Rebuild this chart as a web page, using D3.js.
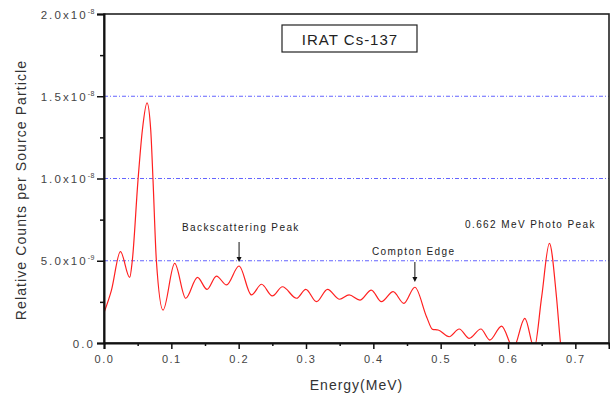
<!DOCTYPE html>
<html>
<head>
<meta charset="utf-8">
<script src="https://cdn.jsdelivr.net/npm/d3@7"></script>
<style>
body { margin: 0; background: #fff; }
text { font-family: Arial, "Liberation Sans", sans-serif; }
</style>
</head>
<body>
<script>
// energy (MeV) and relative counts (in units of 1e-9)
var energy = [0.000, 0.011, 0.0244, 0.0382, 0.042, 0.0505, 0.057, 0.0639, 0.0694, 0.0728,
	0.0778, 0.0877, 0.105, 0.1214, 0.1388, 0.153, 0.167, 0.182, 0.2006, 0.219,
	0.234, 0.250, 0.265, 0.286, 0.2997, 0.3156, 0.332, 0.350, 0.364, 0.380,
	0.397, 0.412, 0.4294, 0.4453, 0.4617, 0.479, 0.488, 0.4963, 0.5126, 0.5275,
	0.5424, 0.5597, 0.573, 0.5905, 0.608, 0.625, 0.639, 0.650, 0.6615, 0.672,
	0.678, 0.684];
var counts = [1.84, 3.2, 5.55, 3.99, 5.0, 9.9, 12.95, 14.6, 12.95, 9.9,
	5.0, 2.0, 4.84, 2.72, 3.99, 3.26, 4.07, 3.53, 4.68, 2.92,
	3.57, 2.86, 3.42, 2.72, 3.26, 2.51, 3.26, 2.66, 2.92, 2.61,
	3.22, 2.51, 3.12, 2.41, 3.39, 1.6, 0.83, 0.79, 0.38, 0.85,
	0.28, 0.85, 0.18, 1.03, -0.3, 1.5, -0.3, 2.8, 6.06, 2.8,
	0, -1.5];
var unit = 1e-9;

var xTicks = [0, 0.1, 0.2, 0.3, 0.4, 0.5, 0.6, 0.7];
var xMinorTicks = [0.05, 0.15, 0.25, 0.35, 0.45, 0.55, 0.65, 0.75];
var xTickLabels = ["0.0", "0.1", "0.2", "0.3", "0.4", "0.5", "0.6", "0.7"];
var yTicks = [0, 5e-9, 1e-8, 1.5e-8, 2e-8];
var yMinorTicks = [2.5e-9, 7.5e-9, 1.25e-8, 1.75e-8];
var yTickMantissa = ["0.0", "5.0x10", "1.0x10", "1.5x10", "2.0x10"];
var yTickExponent = ["", "-9", "-8", "-8", "-8"];
var gridValues = [5e-9, 1e-8, 1.5e-8];

var w = 610;
var h = 396;
var plotLeft = 104, plotRight = 609, plotTop = 14, plotBottom = 343;

var svg = d3.select("body")
	.append("svg")
	.attr("width", w)
	.attr("height", h);

var x = d3.scaleLinear().domain([0, 0.75]).range([plotLeft, plotRight]);
var y = d3.scaleLinear().domain([0, 2e-8]).range([plotBottom, plotTop]);

// dotted grid lines
svg.selectAll("line.grid")
	.data(gridValues)
	.enter()
	.append("line")
	.attr("class", "grid")
	.attr("x1", plotLeft)
	.attr("x2", plotRight)
	.attr("y1", function(d) { return y(d); })
	.attr("y2", function(d) { return y(d); })
	.attr("stroke", "#6464ff")
	.attr("stroke-width", 1.2)
	.attr("stroke-dasharray", "4,2,1,2");

// curve
svg.append("clipPath")
	.attr("id", "plot")
	.append("rect")
	.attr("x", plotLeft)
	.attr("y", plotTop)
	.attr("width", plotRight - plotLeft)
	.attr("height", plotBottom - plotTop);

var line = d3.line()
	.x(function(d, i) { return x(energy[i]); })
	.y(function(d) { return y(d * unit); })
	.curve(d3.curveMonotoneX);

svg.append("path")
	.datum(counts)
	.attr("d", line)
	.attr("clip-path", "url(#plot)")
	.attr("fill", "none")
	.attr("stroke", "#ff2020")
	.attr("stroke-width", 1.2);

// frame
svg.append("rect")
	.attr("x", plotLeft)
	.attr("y", plotTop)
	.attr("width", plotRight - plotLeft)
	.attr("height", plotBottom - plotTop)
	.attr("fill", "none")
	.attr("stroke", "#222")
	.attr("stroke-width", 1.6);

// x axis
var xAxis = svg.append("g")
	.attr("transform", "translate(0," + plotBottom + ")")
	.call(d3.axisBottom(x).tickValues(xTicks).tickSize(6)
		.tickFormat(function(d, i) { return xTickLabels[i]; }));
svg.append("g")
	.attr("transform", "translate(0," + plotBottom + ")")
	.call(d3.axisBottom(x).tickValues(xMinorTicks).tickSize(3).tickFormat(""))
	.select(".domain").remove();

xAxis.selectAll("text")
	.attr("y", 12)
	.attr("dy", "0.71em")
	.attr("font-size", "11px")
	.attr("font-family", "Arial, 'Liberation Sans', sans-serif")
	.attr("letter-spacing", "1.5px")
	.attr("fill", "#444");

// y axis
var yAxis = svg.append("g")
	.attr("transform", "translate(" + plotLeft + ",0)")
	.call(d3.axisLeft(y).tickValues(yTicks).tickSize(7).tickFormat(""));
svg.append("g")
	.attr("transform", "translate(" + plotLeft + ",0)")
	.call(d3.axisLeft(y).tickValues(yMinorTicks).tickSize(4).tickFormat(""))
	.select(".domain").remove();

yAxis.selectAll(".tick").each(function(d, i) {
	var t = d3.select(this).append("text")
		.attr("x", -9)
		.attr("y", 4)
		.attr("text-anchor", "end")
		.attr("font-size", "11.5px")
		.attr("font-family", "Arial, 'Liberation Sans', sans-serif")
		.attr("letter-spacing", "2.1px")
		.attr("fill", "#444");
	t.append("tspan").text(yTickMantissa[i]);
	if (yTickExponent[i] != "") {
		t.append("tspan")
			.attr("dy", -5)
			.attr("font-size", "7px")
			.attr("letter-spacing", "0.5px")
			.text(yTickExponent[i]);
	}
});

svg.selectAll(".domain").attr("stroke", "#111").attr("stroke-width", 2);
svg.selectAll(".tick line").attr("stroke", "#111").attr("stroke-width", 1.5);

// axis titles
svg.append("text")
	.text("Energy(MeV)")
	.attr("x", (plotLeft + plotRight) / 2)
	.attr("y", 390)
	.attr("text-anchor", "middle")
	.attr("font-size", "14px")
	.attr("letter-spacing", "1px")
	.attr("fill", "#333");

svg.append("text")
	.text("Relative Counts per Source Particle")
	.attr("transform", "translate(26,190) rotate(-90)")
	.attr("text-anchor", "middle")
	.attr("font-size", "14px")
	.attr("letter-spacing", "1.1px")
	.attr("fill", "#333");

// title box
svg.append("rect")
	.attr("x", 282)
	.attr("y", 25)
	.attr("width", 135)
	.attr("height", 27)
	.attr("fill", "#fff")
	.attr("stroke", "#222")
	.attr("stroke-width", 1.2);
svg.append("text")
	.text("IRAT Cs-137")
	.attr("x", 350)
	.attr("y", 45)
	.attr("text-anchor", "middle")
	.attr("font-size", "15px")
	.attr("letter-spacing", "1px")
	.attr("fill", "#222");

// annotations
var notes = [
	{ label: "Backscattering Peak", e: 0.2006, tx: 182, ty: 231, arrow: [242, 262] },
	{ label: "Compton Edge", e: 0.4617, tx: 372, ty: 255, arrow: [262, 282] },
	{ label: "0.662 MeV Photo Peak", e: 0, tx: 465, ty: 228, arrow: null }
];

svg.selectAll("text.note")
	.data(notes)
	.enter()
	.append("text")
	.attr("class", "note")
	.text(function(d) { return d.label; })
	.attr("x", function(d) { return d.tx; })
	.attr("y", function(d) { return d.ty; })
	.attr("font-size", "10px")
	.attr("letter-spacing", "1.4px")
	.attr("fill", "#222");

notes.forEach(function(d) {
	if (!d.arrow) return;
	var ax = x(d.e);
	svg.append("line")
		.attr("x1", ax).attr("x2", ax)
		.attr("y1", d.arrow[0]).attr("y2", d.arrow[1] - 2)
		.attr("stroke", "#111")
		.attr("stroke-width", 1);
	svg.append("path")
		.attr("d", "M" + (ax - 2.5) + "," + (d.arrow[1] - 5) + "L" + (ax + 2.5) + "," + (d.arrow[1] - 5) + "L" + ax + "," + d.arrow[1] + "Z")
		.attr("fill", "#111");
});
</script>
</body>
</html>
